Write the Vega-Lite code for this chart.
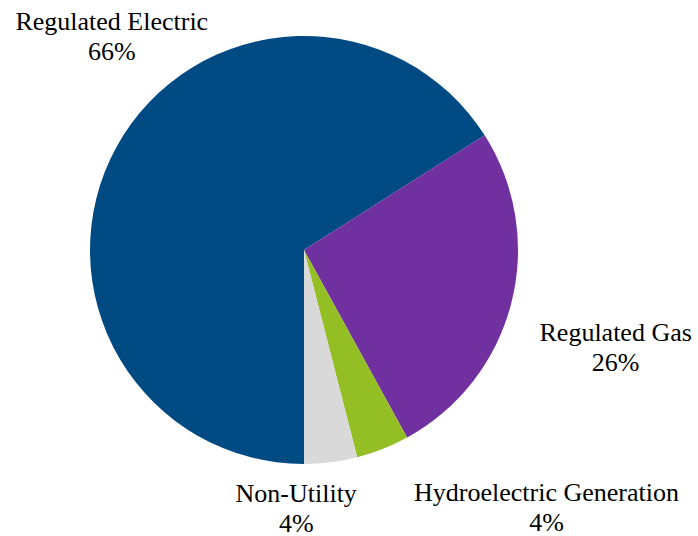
{
  "$schema": "https://vega.github.io/schema/vega-lite/v6.json",
  "autosize": {"type": "none"},
  "padding": {"left": 0, "top": 0, "right": 90, "bottom": 36},
  "width": 608,
  "height": 500,
  "background": "white",
  "view": {"stroke": null},
  "config": {"text": {"font": "Liberation Serif", "fontSize": 26, "lineHeight": 30, "color": "#000000"}},
  "data": {"values": [
    {"category": "Regulated Electric", "value": 66, "order": 1},
    {"category": "Regulated Gas", "value": 26, "order": 2},
    {"category": "Hydroelectric Generation", "value": 4, "order": 3},
    {"category": "Non-Utility", "value": 4, "order": 4}
  ]},
  "transform": [
    {"calculate": "datum.category + '\\n' + datum.value + '%'", "as": "label"}
  ],
  "encoding": {
    "theta": {"field": "value", "type": "quantitative", "stack": true, "scale": {"range": [3.14159265, 9.42477796]}},
    "order": {"field": "order", "type": "quantitative"}
  },
  "layer": [
    {
      "mark": {"type": "arc", "outerRadius": 214, "stroke": null},
      "encoding": {
        "color": {
          "field": "category", "type": "nominal", "legend": null,
          "scale": {
            "domain": ["Regulated Electric", "Regulated Gas", "Hydroelectric Generation", "Non-Utility"],
            "range": ["#004A84", "#7030A0", "#93BE24", "#D9D9D9"]
          }
        }
      }
    },
    {
      "mark": {"type": "text", "radius": 265, "dx": 40, "dy": -100, "lineBreak": "\n", "align": "center", "baseline": "middle"},
      "encoding": {"text": {"condition": {"test": "datum.category === 'Regulated Electric'", "field": "label"}, "value": ""}}
    },
    {
      "mark": {"type": "text", "radius": 265, "dx": 55, "dy": 17, "lineBreak": "\n", "align": "center", "baseline": "middle"},
      "encoding": {"text": {"condition": {"test": "datum.category === 'Regulated Gas'", "field": "label"}, "value": ""}}
    },
    {
      "mark": {"type": "text", "radius": 265, "dx": 145, "dy": -3, "lineBreak": "\n", "align": "center", "baseline": "middle"},
      "encoding": {"text": {"condition": {"test": "datum.category === 'Hydroelectric Generation'", "field": "label"}, "value": ""}}
    },
    {
      "mark": {"type": "text", "radius": 265, "dx": -41, "dy": -19, "lineBreak": "\n", "align": "center", "baseline": "middle"},
      "encoding": {"text": {"condition": {"test": "datum.category === 'Non-Utility'", "field": "label"}, "value": ""}}
    }
  ]
}
